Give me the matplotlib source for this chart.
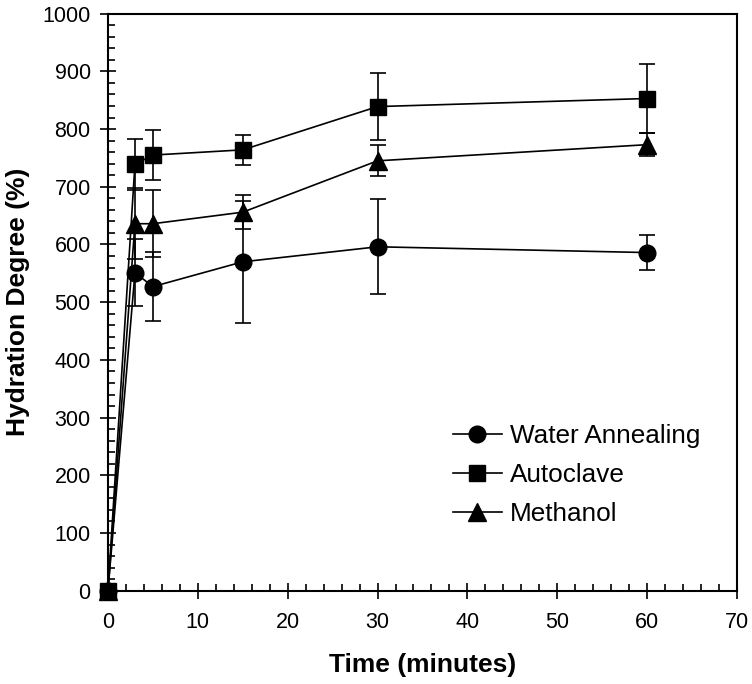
import matplotlib.pyplot as plt
from matplotlib.ticker import MultipleLocator

plt.rcParams['font.family'] = ['Liberation Sans', 'DejaVu Sans']

time_min = [0, 3, 5, 15, 30, 60]

water = [0, 551, 527, 570, 596, 586]
water_err = [0, 58, 60, 106, 82, 30]

autoclave = [0, 739, 755, 764, 839, 853]
autoclave_err = [0, 44, 43, 26, 58, 60]

methanol = [0, 636, 636, 656, 745, 773]
methanol_err = [0, 62, 58, 30, 27, 20]

fig = plt.figure(figsize=(7.52, 6.84), dpi=100)
ax = fig.add_axes([0.1436, 0.1364, 0.8364, 0.8436])

series = [
    (water, water_err, 'o', 12, 'Water Annealing'),
    (autoclave, autoclave_err, 's', 11.5, 'Autoclave'),
    (methanol, methanol_err, '^', 12.5, 'Methanol'),
]
for y, err, mk, ms, name in series:
    ax.errorbar(time_min, y, yerr=err, fmt='none', ecolor='black', elinewidth=1.2,
                capsize=6, capthick=1.2, clip_on=False)
    ax.plot(time_min, y, color='black', lw=1.2, marker=mk, ms=ms, mfc='black', mec='black',
            label=name, clip_on=False, zorder=3)

ax.set_xlim(0, 70)
ax.set_ylim(0, 1000)
ax.xaxis.set_major_locator(MultipleLocator(10))
ax.xaxis.set_minor_locator(MultipleLocator(2))
ax.yaxis.set_major_locator(MultipleLocator(100))
ax.yaxis.set_minor_locator(MultipleLocator(20))
ax.tick_params(which='major', direction='inout', length=11, width=1.2, labelsize=15.5, top=False, right=False)
ax.tick_params(axis='x', which='major', pad=10)
ax.tick_params(axis='y', which='major', pad=7)
ax.tick_params(which='minor', direction='in', length=5, width=1.2, top=False, right=False)
for s in ax.spines.values():
    s.set_linewidth(1.5)

ax.set_xlabel('Time (minutes)', fontsize=19, fontweight='bold', labelpad=14)
ax.set_ylabel('Hydration Degree (%)', fontsize=19, fontweight='bold', labelpad=9)

ax.legend(loc='center left', bbox_to_anchor=(0.548, 0.2005), frameon=False, fontsize=18.8,
          handlelength=1.9, labelspacing=0.58, handletextpad=0.3, borderpad=0, borderaxespad=0)

fig.savefig('out.png', dpi=100)
